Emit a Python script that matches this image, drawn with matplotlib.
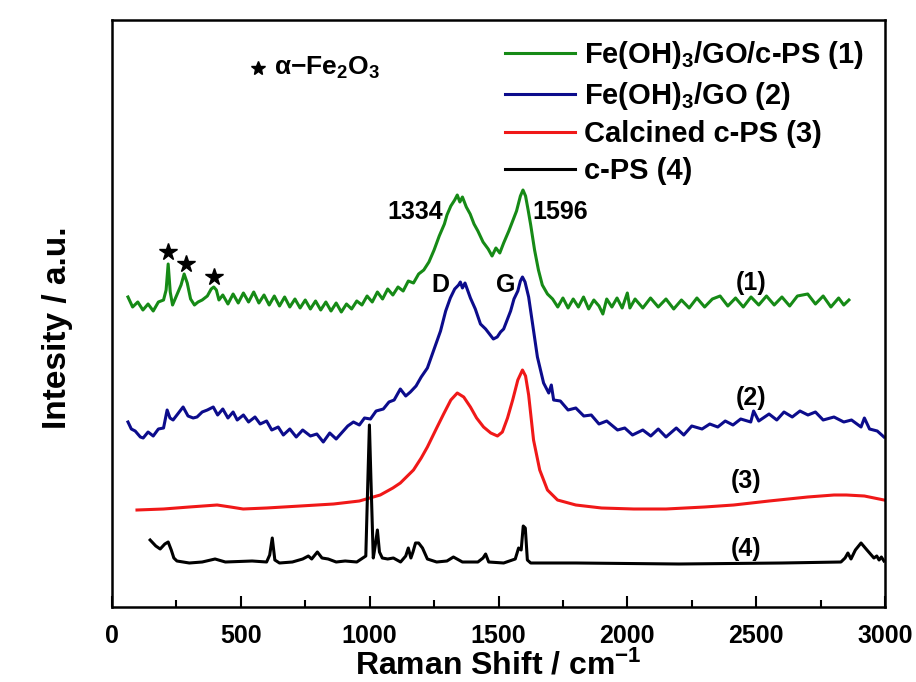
import matplotlib
matplotlib.use('Agg')
import matplotlib.pyplot as plt
import numpy as np

plt.rcParams['font.family'] = ['Liberation Sans', 'DejaVu Sans']
plt.rcParams['font.weight'] = 'bold'
plt.rcParams['axes.labelweight'] = 'bold'
plt.rcParams['mathtext.fontset'] = 'custom'
plt.rcParams['mathtext.rm'] = 'Liberation Sans:bold'
plt.rcParams['mathtext.it'] = 'Liberation Sans:bold'
plt.rcParams['mathtext.bf'] = 'Liberation Sans:bold'

# (1) Fe(OH)3/GO/c-PS  -- Raman shift (cm-1), intensity (a.u.)
green_x = [62, 80, 100, 120, 140, 160, 180, 200, 210, 218, 226, 235, 250, 268, 280, 292, 305, 320, 334, 350,
           370, 385, 395, 405, 415, 430, 450, 470, 490, 510, 530, 550, 570, 590, 610, 630, 650, 670, 690, 710,
           730, 750, 770, 790, 810, 830, 850, 870, 890, 910, 930, 950, 970, 990, 1010, 1030, 1050, 1070, 1090,
           1110, 1130, 1150, 1170, 1190, 1210, 1230, 1250, 1270, 1290, 1300, 1315, 1330, 1340, 1350, 1360, 1375,
           1390, 1405, 1420, 1440, 1460, 1475, 1490, 1505, 1520, 1540, 1555, 1570, 1585, 1595, 1605, 1615, 1625,
           1640, 1655, 1670, 1690, 1710, 1730, 1750, 1770, 1790, 1810, 1830, 1850, 1870, 1890, 1905, 1920, 1940,
           1960, 1980, 2000, 2010, 2030, 2060, 2090, 2120, 2150, 2180, 2210, 2240, 2270, 2300, 2330, 2360, 2390,
           2420, 2450, 2480, 2510, 2540, 2570, 2600, 2630, 2660, 2700, 2730, 2760, 2790, 2820, 2840, 2860]
green_y = [308, 298, 303, 295, 301, 294, 303, 305, 315, 341, 313, 300, 309, 320, 331, 322, 306, 300, 303, 305,
           309, 316, 318, 315, 305, 310, 301, 311, 302, 312, 303, 313, 302, 310, 300, 309, 299, 308, 298, 306,
           297, 305, 296, 304, 295, 303, 294, 302, 293, 301, 296, 304, 300, 309, 303, 313, 306, 316, 310,
           318, 314, 324, 322, 331, 335, 343, 355, 369, 381, 390, 399, 405, 410, 403, 408, 398,
           391, 381, 374, 363, 356, 349, 357, 352, 362, 374, 384, 394, 409, 415, 409, 395, 380,
           355, 335, 320, 311, 306, 298, 307, 297, 306, 298, 308, 296, 305, 299, 291, 306, 298,
           307, 297, 312, 297, 306, 297, 307, 298, 306, 296, 305, 297, 307, 298, 306, 309, 299,
           307, 298, 308, 300, 309, 300, 308, 299, 309, 311, 301, 309, 298, 307, 300, 305]

# (2) Fe(OH)3/GO
blue_x = [62, 75, 90, 110, 121, 140, 160, 180, 200, 214, 225, 237, 255, 276, 295, 315, 330, 350, 370, 393,
          410, 430, 450, 470, 486, 510, 530, 555, 575, 600, 620, 645, 665, 690, 715, 740, 770, 795, 820, 845,
          870, 898, 915, 937, 960, 980, 1003, 1025, 1053, 1075, 1095, 1119, 1140, 1158, 1180, 1200, 1224, 1250,
          1275, 1295, 1313, 1330, 1345, 1352, 1360, 1370, 1391, 1410, 1430, 1450, 1465, 1480, 1495, 1508, 1520,
          1535, 1547, 1560, 1575, 1585, 1593, 1603, 1617, 1630, 1651, 1675, 1695, 1705, 1714, 1740, 1770, 1800,
          1831, 1860, 1890, 1920, 1962, 1990, 2020, 2060, 2091, 2120, 2150, 2190, 2219, 2250, 2290, 2320, 2351,
          2380, 2410, 2440, 2479, 2490, 2510, 2550, 2580, 2608, 2640, 2670, 2701, 2730, 2760, 2802, 2840, 2870,
          2907, 2920, 2940, 2970, 2996]
blue_y = [183, 176, 174, 168, 167, 173, 169, 176, 177, 195, 187, 185, 191, 198, 189, 187, 188, 193, 195, 198,
          190, 196, 187, 193, 185, 190, 183, 188, 181, 184, 175, 178, 170, 176, 168, 175, 169, 171, 163, 172,
          166, 174, 179, 183, 180, 187, 186, 194, 196, 203, 205, 216, 209, 213, 219, 228, 237, 256,
          274, 294, 307, 316, 320, 323, 317, 322, 307, 296, 281, 276, 271, 266, 268, 273, 276,
          286, 294, 306, 314, 324, 328, 323, 308, 285, 248, 222, 212, 220, 205, 204, 195, 197,
          189, 190, 181, 184, 175, 177, 170, 175, 169, 176, 168, 177, 170, 179, 176, 181, 178,
          184, 180, 186, 183, 194, 184, 191, 185, 193, 188, 194, 190, 193, 185, 188, 183, 185,
          178, 187, 176, 174, 168]

# (3) Calcined c-PS
red_x = [97, 200, 300, 408, 460, 509, 600, 731, 860, 960, 1041, 1090, 1119, 1170, 1200, 1224, 1260, 1287,
         1315, 1340, 1365, 1391, 1415, 1442, 1470, 1496, 1515, 1535, 1555, 1575, 1593, 1605, 1617, 1636, 1660,
         1690, 1729, 1800, 1900, 2025, 2150, 2300, 2413, 2550, 2700, 2802, 2850, 2920, 2996]
red_y = [95, 96, 98, 100, 98, 96, 97, 99, 101, 104, 110, 117, 122, 135, 147, 158, 177, 191,
         205, 212, 208, 198, 187, 178, 172, 169, 173, 187, 205, 225, 235, 229, 210, 165, 135,
         115, 105, 100, 97, 96, 96, 98, 100, 104, 108, 110, 110, 109, 105]

# (4) c-PS
black_x = [148, 170, 187, 205, 218, 230, 240, 252, 300, 350, 400, 440, 544, 600, 612, 622, 632, 650, 700, 740,
           762, 775, 797, 815, 839, 870, 905, 950, 985, 993, 999, 1005, 1014, 1022, 1030, 1038, 1049, 1070,
           1092, 1120, 1140, 1150, 1160, 1168, 1178, 1190, 1205, 1224, 1260, 1300, 1325, 1360, 1420, 1440, 1450,
           1462, 1520, 1565, 1578, 1588, 1596, 1604, 1612, 1625, 1800, 2200, 2600, 2829, 2845, 2856, 2868, 2885,
           2907, 2930, 2957, 2968, 2977, 2986, 2996]
black_y = [65, 59, 56, 61, 63, 55, 47, 44, 42, 43, 46, 43, 44, 43, 50, 67, 45, 42, 43, 46,
           49, 46, 53, 47, 46, 43, 44, 43, 49, 125, 180, 125, 47, 60, 75, 53, 47, 46,
           47, 43, 49, 57, 47, 53, 62, 62, 57, 46, 43, 44, 48, 43, 43, 47, 51,
           43, 42, 46, 57, 55, 79, 77, 45, 42, 42, 41, 42, 43, 47, 52, 46, 55,
           62, 55, 47, 49, 45, 48, 44]

star_x = [218, 288, 396]
star_y = [353, 341, 328]

fig = plt.figure(figsize=(9.16, 6.82), dpi=100)
ax = fig.add_axes([112 / 916, 1 - 607 / 682, (885 - 112) / 916, (607 - 20) / 682])

lw = 2.2
ax.plot(green_x, green_y, color='#168a16', lw=lw, label='Fe(OH)$_3$/GO/c-PS (1)')
ax.plot(blue_x, blue_y, color='#0c0c8c', lw=lw, label='Fe(OH)$_3$/GO (2)')
ax.plot(red_x, red_y, color='#f01818', lw=lw, label='Calcined c-PS (3)')
ax.plot(black_x, black_y, color='black', lw=lw, label='c-PS (4)')
ax.plot(star_x, star_y, ls='none', marker='*', ms=13, color='black')

ax.set_xlim(0, 3000)
ax.set_ylim(-2, 585)
ax.set_yticks([])
ax.set_xticks(np.arange(0, 3001, 500))
ax.set_xticks(np.arange(250, 3000, 500), minor=True)
ax.tick_params(axis='x', which='major', direction='in', length=8, width=1.5, labelsize=18, pad=12)
ax.tick_params(axis='x', which='minor', direction='in', length=5, width=1.5)
for s in ax.spines.values():
    s.set_linewidth(1.8)

ax.set_xlabel('Raman Shift / cm$^{-1}$', fontsize=23, labelpad=2)
ax.set_ylabel('Intesity / a.u.', fontsize=24)
ax.yaxis.set_label_coords(-0.051, 0.475)

fs = 18
ax.text(1177, 393, '1334', fontsize=fs, ha='center', va='center')
ax.text(1741, 393, '1596', fontsize=fs, ha='center', va='center')
ax.text(1275, 320, 'D', fontsize=fs, ha='center', va='center')
ax.text(1527, 320, 'G', fontsize=fs, ha='center', va='center')
ax.text(2479, 322, '(1)', fontsize=fs, ha='center', va='center')
ax.text(2479, 207, '(2)', fontsize=fs, ha='center', va='center')
ax.text(2460, 124, '(3)', fontsize=fs, ha='center', va='center')
ax.text(2460, 56, '(4)', fontsize=fs, ha='center', va='center')
ax.plot([567], [537], ls='none', marker='*', ms=10, color='black')
ax.text(630, 537, '$\\alpha$\u2212Fe$_2$O$_3$', fontsize=19, ha='left', va='center')

leg = ax.legend(loc='upper left', bbox_to_anchor=(505 / 916, 1 - 39 / 682), bbox_transform=fig.transFigure,
                frameon=False, fontsize=21, handlelength=2.4, handletextpad=0.3, labelspacing=0.3,
                borderpad=0, borderaxespad=0)

fig.savefig('out.png', dpi=100)
